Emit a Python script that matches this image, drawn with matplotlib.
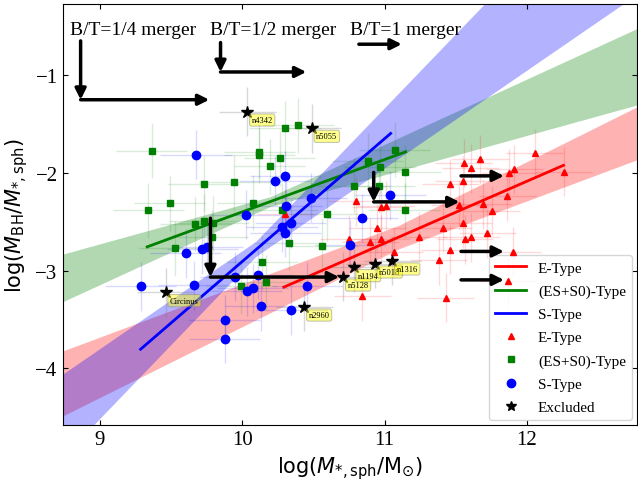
import numpy as np
import matplotlib
matplotlib.use("Agg")
import matplotlib.pyplot as plt
from matplotlib.lines import Line2D

plt.rcParams['font.family'] = 'serif'
plt.rcParams['font.serif'] = ['Liberation Serif', 'DejaVu Serif']
plt.rcParams['mathtext.fontset'] = 'dejavusans'

# ---------------------------------------------------------------
# Data
# ---------------------------------------------------------------

# E-type galaxies
e_x = [12.056, 12.259, 11.909, 11.875, 11.861, 11.752, 11.691, 11.557, 11.605,
       11.672, 11.551, 11.462, 11.525, 11.551, 11.411, 11.563, 11.609, 11.722,
       11.241, 11.458, 11.381, 11.900, 11.865, 11.428, 11.069, 10.975, 11.008,
       10.978, 10.802, 10.950, 10.748, 10.899, 10.845, 10.302]
e_y = [-1.801, -1.989, -1.964, -2.005, -2.240, -2.386, -2.319, -1.898, -1.954,
       -1.862, -2.079, -2.108, -2.323, -2.517, -2.563, -2.677, -2.660, -2.619,
       -2.652, -2.787, -2.894, -2.807, -3.105, -3.278, -2.810, -2.350, -2.335,
       -2.677, -2.292, -2.567, -2.677, -2.708, -3.263, -2.415]

# ES + S0 galaxies
es_x = [9.365, 9.731, 9.945, 9.493, 9.341, 9.673, 9.734, 10.076, 9.791, 9.526,
        9.994, 10.121, 10.121, 10.302, 10.396, 10.264, 10.194, 10.281, 9.797,
        10.331, 10.143, 10.597, 10.785, 10.564, 10.171, 11.071, 10.881, 10.968,
        11.146, 10.964, 11.141]
es_y = [-1.774, -2.108, -2.094, -2.312, -2.381, -2.521, -2.496, -2.306, -2.660,
        -2.771, -3.161, -1.782, -1.818, -1.539, -1.514, -1.849, -1.931, -2.384,
        -2.514, -2.718, -2.916, -2.419, -2.132, -2.744, -3.120, -1.762, -1.874,
        -1.938, -1.995, -2.132, -2.381]

# S-type galaxies
s_x = [9.677, 10.025, 9.605, 9.720, 9.756, 9.288, 9.663, 10.032, 10.075, 9.877,
       9.877, 10.304, 10.229, 10.310, 10.281, 10.342, 10.303, 10.485, 10.110,
       9.954, 10.845, 10.760, 10.459, 10.133, 10.346, 11.041]
s_y = [-1.815, -2.427, -2.821, -2.780, -2.754, -3.161, -3.148, -3.209, -3.179,
       -3.503, -3.695, -2.030, -2.079, -2.335, -2.558, -2.516, -2.611, -2.253,
       -3.041, -3.061, -2.463, -2.736, -3.156, -3.366, -3.404, -2.227]

# excluded galaxies
ex_names = ['n4342', 'n5055', 'Circinus', 'n2960', 'n5128', 'n1194', 'n5018', 'n1316']
ex_x = [10.038, 10.491, 9.465, 10.438, 10.711, 10.783, 10.933, 11.055]
ex_y = [-1.375, -1.542, -3.223, -3.370, -3.063, -2.967, -2.930, -2.899]

# typical uncertainties (dex)
E_XERR, E_YERR = 0.20, 0.25
ES_XERR, ES_YERR = 0.25, 0.28
S_XERR, S_YERR = 0.25, 0.25
EX_XERR, EX_YERR = 0.20, 0.25

# fits: slope, intercept at pivot, pivot, d_intercept, d_slope, x-range of line
fit_labels = ['E-Type', '(ES+S0)-Type', 'S-Type']
fit_colors = ['red', 'green', 'blue']
fit_slope = [0.635, 0.536, 1.258]
fit_icpt = [-2.656, -2.292, -2.782]
fit_pivot = [11.1, 10.2, 10.1]
fit_dicpt = [0.12, 0.05, 0.077]
fit_dslope = [0.09, 0.1325, 0.256]
fit_xmin = [10.293, 9.334, 9.288]
fit_xmax = [12.256, 11.148, 11.043]

# merger tracks: label, text position, drop in y, shift in x
bt_labels = ['B/T=1/4 merger', 'B/T=1/2 merger', 'B/T=1 merger']
bt_text_x = [8.792, 9.773, 10.760]
bt_text_y = -0.53
bt_drop = [np.log10(4), np.log10(2), 0.0]
bt_shift = [np.log10(8), np.log10(4), np.log10(2)]
# arrow start points and which track they follow
arrow_x = [8.867, 9.849, 10.820, 9.778, 10.924, 11.537, 11.537, 11.537]
arrow_y = [-0.649, -0.666, -0.683, -2.463, -1.995, -2.030, -2.803, -3.094]
arrow_kind = [0, 1, 2, 0, 1, 2, 2, 2]

# ---------------------------------------------------------------
# Plot
# ---------------------------------------------------------------

fig = plt.figure(figsize=(6.38, 4.85), dpi=100)
ax = fig.add_axes([0.098, 0.122, 0.9, 0.868])

xx = np.linspace(8.6, 12.9, 400)
for i in range(3):
    d = xx - fit_pivot[i]
    mid = fit_icpt[i] + fit_slope[i] * d
    half = fit_dicpt[i] + fit_dslope[i] * np.abs(d)
    ax.fill_between(xx, mid - half, mid + half, color=fit_colors[i],
                    alpha=0.3, lw=0, zorder=1)
    xl = np.array([fit_xmin[i], fit_xmax[i]])
    ax.plot(xl, fit_icpt[i] + fit_slope[i] * (xl - fit_pivot[i]),
            color=fit_colors[i], lw=2, zorder=4)

# error bars
ax.errorbar(e_x, e_y, xerr=E_XERR, yerr=E_YERR, fmt='none', ecolor='red',
            alpha=0.15, lw=1, zorder=2)
ax.errorbar(es_x, es_y, xerr=ES_XERR, yerr=ES_YERR, fmt='none', ecolor='green',
            alpha=0.15, lw=1, zorder=2)
ax.errorbar(s_x, s_y, xerr=S_XERR, yerr=S_YERR, fmt='none', ecolor='blue',
            alpha=0.15, lw=1, zorder=2)
ax.errorbar(ex_x, ex_y, xerr=EX_XERR, yerr=EX_YERR, fmt='none', ecolor='gray',
            alpha=0.3, lw=1, zorder=2)

# points
ax.plot(e_x, e_y, '^', color='red', ms=4.5, ls='none', zorder=6)
ax.plot(es_x, es_y, 's', color='green', ms=4.5, ls='none', zorder=6)
ax.plot(s_x, s_y, 'o', color='blue', ms=6, ls='none', zorder=6)
ax.plot(ex_x, ex_y, '*', color='black', ms=9, ls='none', zorder=6)

for name, x, y in zip(ex_names, ex_x, ex_y):
    ax.annotate(name, xy=(x, y), xytext=(3, -3), textcoords='offset points',
                fontsize=6, ha='left', va='top', zorder=7,
                bbox=dict(boxstyle='round,pad=0.25', fc='yellow', ec='gray',
                          alpha=0.45, lw=0.8))

# merger arrows
arrow_props = dict(arrowstyle='-|>', color='black', lw=2.5,
                   mutation_scale=16, shrinkA=0, shrinkB=0)
for x0, y0, k in zip(arrow_x, arrow_y, arrow_kind):
    y1 = y0 - bt_drop[k]
    if bt_drop[k] > 0:
        ax.annotate('', xy=(x0, y1), xytext=(x0, y0), arrowprops=arrow_props, zorder=8)
    ax.annotate('', xy=(x0 + bt_shift[k], y1), xytext=(x0, y1),
                arrowprops=arrow_props, zorder=8)

for lab, tx in zip(bt_labels, bt_text_x):
    ax.text(tx, bt_text_y, lab, fontsize=14, ha='left', va='center')

ax.set_xlim(8.74, 12.77)
ax.set_ylim(-4.577, -0.27)
ax.set_xticks([9, 10, 11, 12])
ax.set_yticks([-4, -3, -2, -1])
ax.tick_params(direction='in', top=True, right=True, labelsize=15)

ax.set_xlabel(r'log($M_{*,\rm sph}$/M$_{\odot}$)', fontsize=15, family='DejaVu Sans')
ax.set_ylabel(r'log($M_{\rm BH}$/$M_{*,\rm sph}$)', fontsize=15, family='DejaVu Sans')

handles = [Line2D([], [], color=c, lw=2) for c in fit_colors]
handles += [Line2D([], [], marker='^', color='red', ms=4.5, ls='none'),
            Line2D([], [], marker='s', color='green', ms=4.5, ls='none'),
            Line2D([], [], marker='o', color='blue', ms=6, ls='none'),
            Line2D([], [], marker='*', color='black', ms=7, ls='none')]
labels = fit_labels + ['E-Type', '(ES+S0)-Type', 'S-Type', 'Excluded']
leg = ax.legend(handles, labels, loc='lower right', fontsize=11,
                labelspacing=0.62, borderaxespad=0.3)
leg.set_zorder(5)

fig.savefig('out.png', dpi=100)
